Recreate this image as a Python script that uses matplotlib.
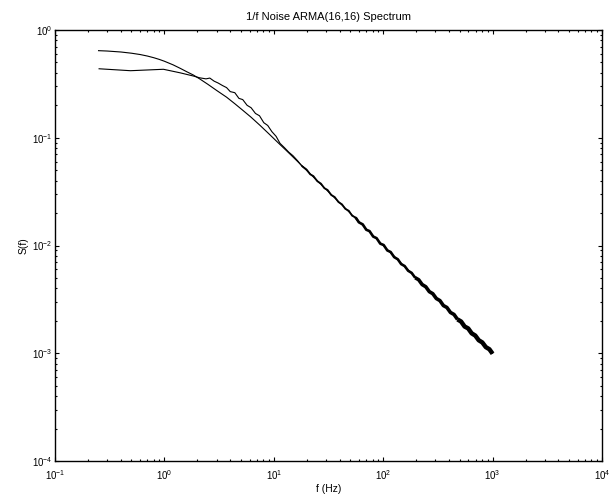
import matplotlib.pyplot as plt
from matplotlib.ticker import LogLocator, NullFormatter

plt.rcParams["font.family"] = ["Liberation Sans", "DejaVu Sans"]
plt.rcParams["mathtext.fontset"] = "custom"
plt.rcParams["mathtext.rm"] = "Liberation Sans"
plt.rcParams["mathtext.it"] = "Liberation Sans:italic"
plt.rcParams["axes.unicode_minus"] = False

# model ARMA(16,16) spectrum
f_model = [0.25, 0.3, 0.4, 0.5, 0.6, 0.7, 0.8, 0.9, 1.0, 1.2, 1.4, 1.6,
           1.84, 2.1, 2.5, 3.0, 3.7, 4.4, 5.2, 6.2, 7.5, 9, 11, 13, 15, 20,
           30, 100, 300, 1000]
s_model = [0.643, 0.638, 0.625, 0.609, 0.592, 0.573, 0.553, 0.533, 0.513,
           0.475, 0.44, 0.41, 0.382, 0.352, 0.313, 0.275, 0.238, 0.207,
           0.180, 0.155, 0.130, 0.109, 0.0895, 0.0762, 0.0662, 0.0497,
           0.0332, 0.0100, 0.00334, 0.00100]

# estimated spectrum of the generated noise
f_est = [0.25, 0.49, 0.98, 1.4, 1.84, 2.1, 2.4, 2.6, 2.85, 3.1, 3.4, 3.7,
         4.0, 4.4, 4.8, 5.2, 5.7, 6.2, 6.8, 7.4, 8.1, 8.8, 9.6, 10.5,
         11.4, 12.5, 13.7, 15.0, 16.5, 18,
         20, 21.5, 23, 25, 27, 29, 31, 33.5, 36, 39, 42, 45, 48.5, 52, 56,
         60, 65, 70, 75, 81, 87, 94, 101, 109, 117, 126, 136, 146, 157, 169,
         182, 196, 211, 227, 245, 264, 284, 306, 330, 355, 382, 412, 444,
         478, 515, 555, 598, 644, 694, 747, 805, 867, 934, 1000]
s_est = [0.437, 0.419, 0.432, 0.40, 0.374, 0.36, 0.352, 0.358, 0.335,
         0.322, 0.305, 0.292, 0.268, 0.262, 0.232, 0.226, 0.2, 0.19, 0.168,
         0.16, 0.138, 0.13, 0.114, 0.103, 0.0887, 0.081, 0.0735, 0.0680,
         0.0612, 0.0548,
         0.0505, 0.0458, 0.0441, 0.0395, 0.0375, 0.0340, 0.0328, 0.0294,
         0.0282, 0.0253, 0.0241, 0.0219, 0.0210, 0.0189, 0.0182, 0.0164,
         0.0157, 0.0140, 0.0136, 0.0121, 0.0117, 0.0104, 0.0101, 0.00900,
         0.00870, 0.00780, 0.00745, 0.00672, 0.00645, 0.00583, 0.00557,
         0.00502, 0.00481, 0.00434, 0.00414, 0.00373, 0.00357, 0.00322,
         0.00308, 0.00277, 0.00266, 0.00239, 0.00229, 0.00206, 0.00197,
         0.00177, 0.00170, 0.00153, 0.00146, 0.00132, 0.00126, 0.00114,
         0.00109, 0.00099]

fig = plt.figure(figsize=(6.09, 4.97), dpi=100)
ax = fig.add_axes([55 / 609, 36 / 497, 547 / 609, 431 / 497])

ax.loglog(f_model, s_model, color="black", lw=0.8)

# the estimate gets visibly thicker as the frequency bins pile up
pieces = [(0, 20, 0.8), (20, 60, 1.3), (60, 200, 1.9), (200, 500, 2.6),
          (500, 1001, 3.2)]
for lo, hi, lw in pieces:
    idx = [i for i, f in enumerate(f_est) if lo <= f <= hi]
    if idx[0] > 0:
        idx = [idx[0] - 1] + idx
    ax.loglog([f_est[i] for i in idx], [s_est[i] for i in idx],
              color="black", lw=lw, solid_capstyle="butt")

ax.set_xlim(0.1, 1e4)
ax.set_ylim(1e-4, 1)
ax.xaxis.set_major_locator(LogLocator(base=10, numticks=10))
ax.yaxis.set_major_locator(LogLocator(base=10, numticks=10))
ax.xaxis.set_minor_locator(LogLocator(base=10, subs=range(2, 10), numticks=20))
ax.yaxis.set_minor_locator(LogLocator(base=10, subs=range(2, 10), numticks=20))
ax.xaxis.set_minor_formatter(NullFormatter())
ax.yaxis.set_minor_formatter(NullFormatter())
ax.tick_params(which="both", direction="in", top=True, right=True,
               labelsize=7, width=0.8)
ax.tick_params(which="major", length=3)
ax.tick_params(which="minor", length=1.6)
ax.tick_params(axis="x", pad=5.5)
ax.tick_params(axis="y", pad=2)
for sp in ax.spines.values():
    sp.set_linewidth(1.0)

ax.set_title("1/f Noise ARMA(16,16) Spectrum", fontsize=8, pad=7)
ax.set_xlabel("f (Hz)", fontsize=7.5, labelpad=1)
ax.set_ylabel("S(f)", fontsize=7.5, labelpad=2)

fig.savefig("out.png", dpi=100)
